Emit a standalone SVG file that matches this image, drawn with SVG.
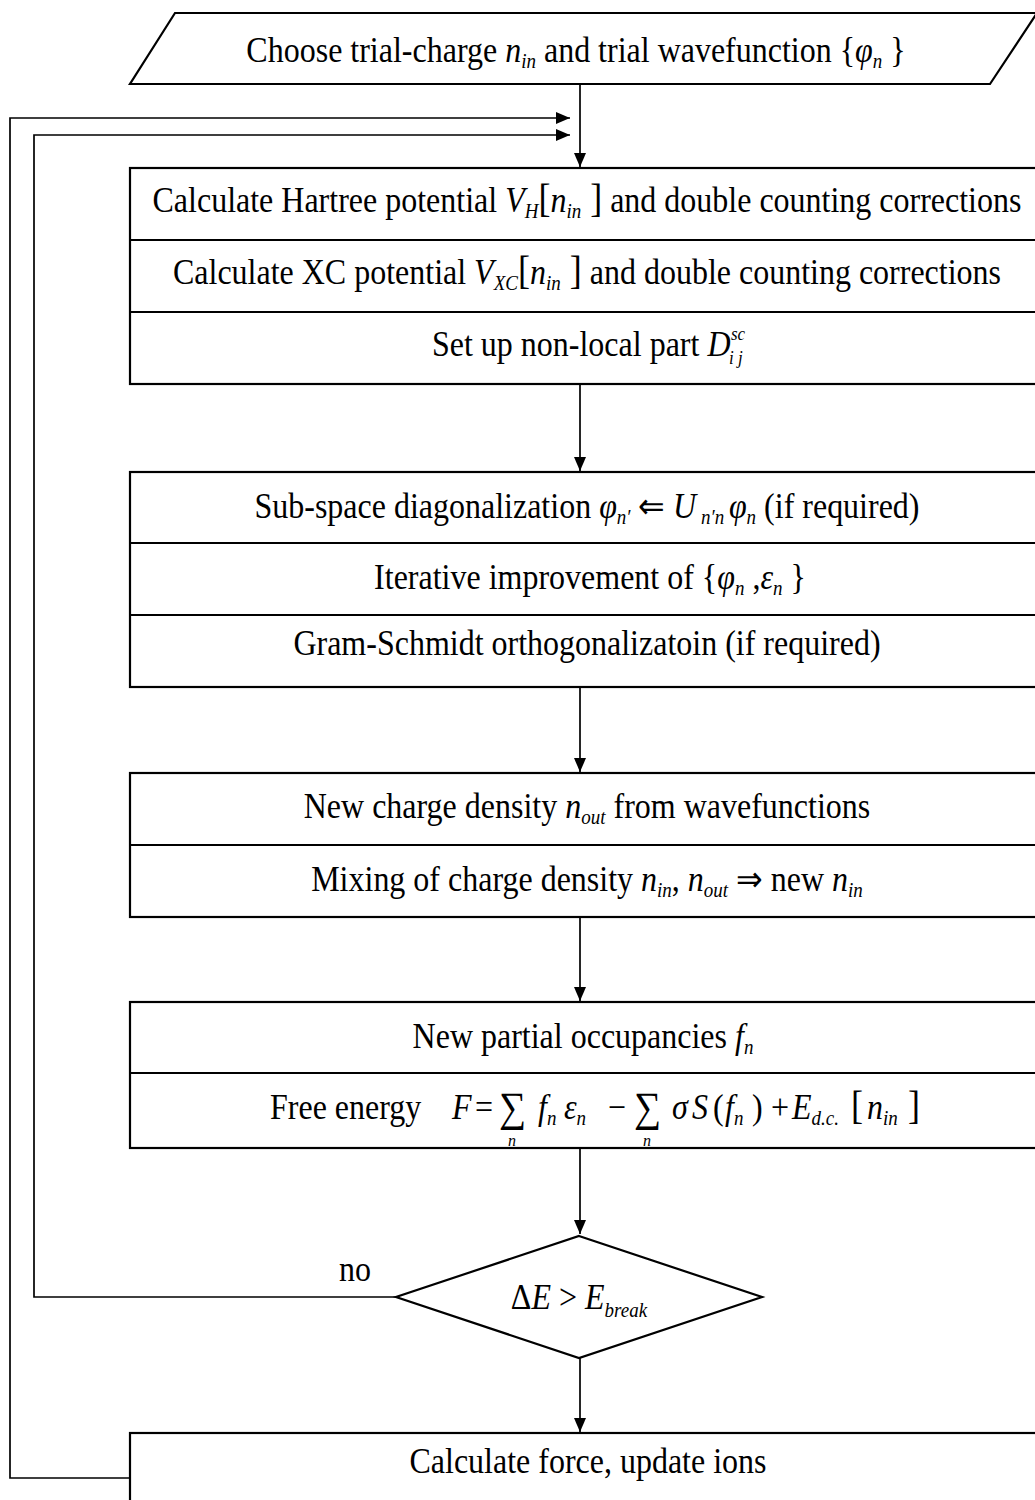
<svg xmlns="http://www.w3.org/2000/svg" width="1035" height="1500" viewBox="0 0 1035 1500">
<style>
.t{font-family:"Liberation Serif","Times New Roman",serif;font-size:32px;fill:#000;text-anchor:middle}
.l{text-anchor:start}
.i{font-style:italic}
.s{font-size:19px}
.sm{font-family:"Liberation Serif","Times New Roman",serif;font-size:16px;font-style:italic;fill:#000;text-anchor:middle}
.box{fill:#fff;stroke:#000;stroke-width:2.2}
.div{stroke:#000;stroke-width:2.2}
.c{fill:none;stroke:#000;stroke-width:1.7}
</style>
<defs>
<marker id="ah" viewBox="0 0 14 12" refX="14" refY="6" markerWidth="14" markerHeight="12" markerUnits="userSpaceOnUse" orient="auto">
<path d="M0,0 L14,6 L0,12 Z" fill="#000"/>
</marker>
</defs>
<g id="connectors">
<line class="c" x1="580" y1="84" x2="580" y2="167" marker-end="url(#ah)"/>
<polyline class="c" points="130,1478 10,1478 10,118 570,118" marker-end="url(#ah)"/>
<polyline class="c" points="396,1297 34,1297 34,135 570,135" marker-end="url(#ah)"/>
<line class="c" x1="580" y1="384" x2="580" y2="471" marker-end="url(#ah)"/>
<line class="c" x1="580" y1="687" x2="580" y2="772" marker-end="url(#ah)"/>
<line class="c" x1="580" y1="917" x2="580" y2="1001" marker-end="url(#ah)"/>
<line class="c" x1="580" y1="1148" x2="580" y2="1234" marker-end="url(#ah)"/>
<line class="c" x1="580" y1="1358" x2="580" y2="1432" marker-end="url(#ah)"/>
</g>
<g id="start">
<polygon class="box" points="175,13 1037,13 990,84 130,84"/>
<text class="t" x="576" y="0" transform="translate(0,62) scale(1,1.1)">Choose trial-charge <tspan class="i">n</tspan><tspan class="i s" dy="5">in</tspan><tspan dy="-5"> and trial wavefunction {</tspan><tspan class="i">φ</tspan><tspan class="i s" dy="5">n</tspan><tspan dy="-5"> }</tspan></text>
</g>
<g id="potential">
<rect class="box" x="130" y="168" width="915" height="216"/>
<line class="div" x1="130" y1="240" x2="1045" y2="240"/>
<line class="div" x1="130" y1="312" x2="1045" y2="312"/>
<text class="t" x="587" y="0" transform="translate(0,212) scale(1,1.1)">Calculate Hartree potential <tspan class="i">V</tspan><tspan class="i s" dy="5">H</tspan><tspan dy="-5" font-size="36">[</tspan><tspan class="i">n</tspan><tspan class="i s" dy="5">in</tspan><tspan dy="-5" font-size="36"> ]</tspan> and double counting corrections</text>
<text class="t" x="587" y="0" transform="translate(0,284) scale(1,1.1)">Calculate XC potential <tspan class="i">V</tspan><tspan class="i s" dy="5">XC</tspan><tspan dy="-5" font-size="36">[</tspan><tspan class="i">n</tspan><tspan class="i s" dy="5">in</tspan><tspan dy="-5" font-size="36"> ]</tspan> and double counting corrections</text>
<text class="t l" x="432" y="0" transform="translate(0,356) scale(1,1.1)">Set up non-local part  <tspan class="i">D</tspan></text>
<text class="t l i" x="731" y="0" style="font-size:17px" transform="translate(0,340) scale(1,1.1)">sc</text>
<text class="t l i" x="729" y="0" style="font-size:17px" transform="translate(0,364) scale(1,1.1)">i j</text>
</g>
<g id="diagonalization">
<rect class="box" x="130" y="472" width="915" height="215"/>
<line class="div" x1="130" y1="543" x2="1045" y2="543"/>
<line class="div" x1="130" y1="615" x2="1045" y2="615"/>
<text class="t" x="587" y="0" transform="translate(0,518) scale(1,1.1)">Sub-space diagonalization  <tspan class="i">φ</tspan><tspan class="i s" dy="5">n′</tspan><tspan dy="-5">  ⇐ </tspan><tspan class="i">U</tspan><tspan class="i s" dy="5"> n′n  </tspan><tspan class="i" dy="-5">φ</tspan><tspan class="i s" dy="5">n</tspan><tspan dy="-5">  (if required)</tspan></text>
<text class="t" x="590" y="0" transform="translate(0,589) scale(1,1.1)">Iterative improvement of {<tspan class="i">φ</tspan><tspan class="i s" dy="5">n</tspan><tspan dy="-5"> ,</tspan><tspan class="i">ε</tspan><tspan class="i s" dy="5">n</tspan><tspan dy="-5"> }</tspan></text>
<text class="t" x="587" y="0" transform="translate(0,655) scale(1,1.1)">Gram-Schmidt orthogonalizatoin (if required)</text>
</g>
<g id="density">
<rect class="box" x="130" y="773" width="915" height="144"/>
<line class="div" x1="130" y1="845" x2="1045" y2="845"/>
<text class="t" x="587" y="0" transform="translate(0,818) scale(1,1.1)">New charge density <tspan class="i">n</tspan><tspan class="i s" dy="5">out</tspan><tspan dy="-5"> from wavefunctions</tspan></text>
<text class="t" x="587" y="0" transform="translate(0,891) scale(1,1.1)">Mixing of charge density <tspan class="i">n</tspan><tspan class="i s" dy="5">in</tspan><tspan dy="-5">, </tspan><tspan class="i">n</tspan><tspan class="i s" dy="5">out</tspan><tspan dy="-5"> ⇒ new </tspan><tspan class="i">n</tspan><tspan class="i s" dy="5">in</tspan></text>
</g>
<g id="energy">
<rect class="box" x="130" y="1002" width="915" height="146"/>
<line class="div" x1="130" y1="1073" x2="1045" y2="1073"/>
<text class="t" x="583" y="0" transform="translate(0,1048) scale(1,1.1)">New partial occupancies <tspan class="i">f</tspan><tspan class="i s" dy="5">n</tspan></text>
<text class="t l" y="0" transform="translate(0,1119) scale(1,1.1)"><tspan x="270">Free energy</tspan><tspan class="i" x="452">F</tspan><tspan x="475">=</tspan><tspan x="499" font-size="38" dy="2">∑</tspan><tspan class="i" x="538" dy="-2">f</tspan><tspan class="i s" dy="5">n</tspan><tspan class="i" dy="-5" x="564">ε</tspan><tspan class="i s" dy="5">n</tspan><tspan x="608" dy="-5">−</tspan><tspan x="634" font-size="38" dy="2">∑</tspan><tspan class="i" x="672" dy="-2">σ</tspan><tspan class="i" x="692">S</tspan><tspan x="713">(</tspan><tspan class="i" x="725">f</tspan><tspan class="i s" dy="5">n</tspan><tspan x="752" dy="-5">)</tspan><tspan x="771">+</tspan><tspan class="i" x="792">E</tspan><tspan class="i s" dy="5">d.c.</tspan><tspan x="851" dy="-5" font-size="36">[</tspan><tspan class="i" x="867">n</tspan><tspan class="i s" dy="5">in</tspan><tspan x="908" dy="-5" font-size="36">]</tspan></text>
<text class="sm" x="512" y="1146">n</text>
<text class="sm" x="647" y="1146">n</text>
</g>
<g id="decision">
<polygon class="box" points="579,1236 762,1297 579,1358 396,1297"/>
<text class="t" x="579" y="0" transform="translate(0,1309) scale(1,1.1)"><tspan>Δ</tspan><tspan class="i">E</tspan> &gt; <tspan class="i">E</tspan><tspan class="i s" dy="7">break</tspan></text>
<text class="t" x="355" y="0" transform="translate(0,1281) scale(1,1.1)">no</text>
</g>
<g id="update">
<rect class="box" x="130" y="1433" width="915" height="80"/>
<text class="t" x="588" y="0" transform="translate(0,1473) scale(1,1.1)">Calculate force, update ions</text>
</g>
</svg>
